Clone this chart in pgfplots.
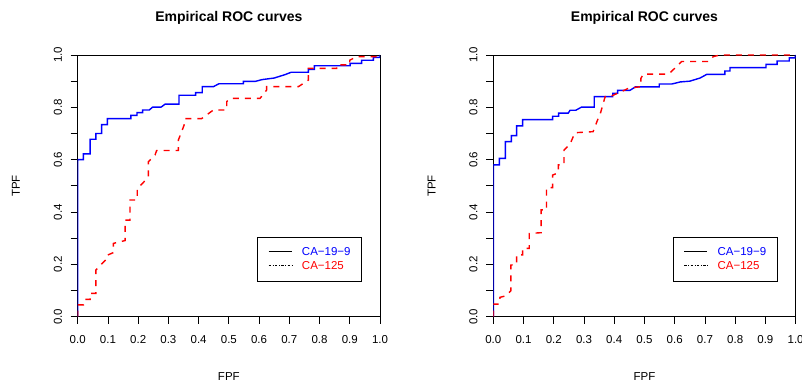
\documentclass[border=0pt]{standalone}
\usepackage{pgfplots}
\pgfplotsset{compat=1.18}
\usepackage{fontspec}
\setmainfont{Liberation Sans}

\newcommand{\basefont}{\fontsize{11.5}{13}\selectfont}

\pgfplotsset{
  rocstyle/.style={
    scale only axis, width=302.3pt, height=261.7pt,
    anchor=south west,
    xmin=0, xmax=1, ymin=0, ymax=1,
    clip=true,
    axis line style={line width=0.8pt, black},
    tick style={line width=0.8pt, black},
    tick align=outside, xtick pos=bottom, ytick pos=left,
    major tick length=7pt,
    xtick={0,0.1,0.2,0.3,0.4,0.5,0.6,0.7,0.8,0.9,1},
    xticklabels={0.0,0.1,0.2,0.3,0.4,0.5,0.6,0.7,0.8,0.9,1.0},
    ytick={0,0.1,0.2,0.3,0.4,0.5,0.6,0.7,0.8,0.9,1},
    yticklabels={0.0,,0.2,,0.4,,0.6,,0.8,,1.0},
    /pgf/number format/assume math mode=true,
    ticklabel style={font=\basefont, inner sep=0pt},
    xticklabel style={anchor=north},
    yticklabel style={rotate=90, anchor=south},
    xticklabel shift=11.5pt,
    yticklabel shift=8.6pt,
    title={Empirical ROC curves},
    title style={at={(axis description cs:0.5,1.119)}, anchor=center, yshift=0pt,
      font=\bfseries\fontsize{14}{16}\selectfont},
    xlabel={FPF}, ylabel={TPF},
    label style={font=\basefont},
    xlabel style={at={(axis description cs:0.5,-0.2304)}, anchor=center},
    ylabel style={at={(axis description cs:-0.204,0.5)}, anchor=center},
    legend cell align=left,
    legend image code/.code={\draw[##1] (0pt,1.5pt) -- (23pt,1.5pt);},
    legend style={at={(axis description cs:0.94,0.133)}, anchor=south east,
      draw=black, line width=0.6pt, fill=white,
      inner xsep=11pt, inner ysep=9.75pt, row sep=3.5pt, column sep=10pt,
      font=\basefont,
      nodes={inner sep=0pt, text height=8.5pt, text depth=2pt}},
  },
  bluecurve/.style={blue, line width=1.4pt, line join=miter, forget plot},
  redcurve/.style={red, line width=1.4pt, dash pattern=on 6pt off 6pt, forget plot},
}

\begin{document}
\begin{tikzpicture}
\useasboundingbox (0,0) rectangle (802pt,385pt);

\begin{axis}[rocstyle, at={(77.7pt,68.3pt)}]
\addplot[bluecurve] coordinates {
(0,0) (0,0.6) (0.019,0.6) (0.019,0.622) (0.041,0.622) (0.041,0.678) (0.06,0.678)
(0.06,0.70) (0.079,0.70) (0.079,0.734) (0.098,0.734) (0.098,0.757) (0.176,0.757)
(0.176,0.769) (0.196,0.769) (0.196,0.78) (0.215,0.78) (0.215,0.79) (0.237,0.79)
(0.248,0.801) (0.276,0.801) (0.289,0.812) (0.335,0.812) (0.335,0.846) (0.39,0.846)
(0.39,0.856) (0.412,0.856) (0.412,0.879) (0.449,0.879) (0.467,0.89) (0.548,0.89)
(0.548,0.899) (0.587,0.899) (0.61,0.906) (0.65,0.912) (0.686,0.925) (0.706,0.934)
(0.763,0.934) (0.763,0.945) (0.783,0.945) (0.783,0.959) (0.901,0.959) (0.901,0.968)
(0.939,0.968) (0.939,0.98) (0.978,0.98) (0.978,0.991) (1,0.991) (1,1)
};
\addplot[redcurve] coordinates {
(0,0) (0,0.045) (0.019,0.045) (0.022,0.066) (0.041,0.066) (0.041,0.089) (0.06,0.089)
(0.06,0.178) (0.079,0.201) (0.098,0.223) (0.098,0.235) (0.118,0.245) (0.118,0.28)
(0.157,0.291) (0.157,0.369) (0.173,0.369) (0.173,0.446) (0.197,0.446) (0.197,0.49)
(0.215,0.51) (0.234,0.535) (0.234,0.592) (0.256,0.618) (0.261,0.635) (0.333,0.635)
(0.333,0.675) (0.352,0.732) (0.355,0.757) (0.41,0.757) (0.449,0.79) (0.493,0.79)
(0.493,0.822) (0.504,0.834) (0.603,0.834) (0.625,0.866) (0.625,0.879) (0.73,0.879)
(0.763,0.904) (0.763,0.949) (0.857,0.949) (0.857,0.962) (0.9,0.962) (0.9,0.98)
(0.923,0.994) (1,0.994) (1,1)
};
\addlegendimage{black, line width=0.6pt}
\addlegendentry{\textcolor{blue}{CA−19−9}}
\addlegendimage{black, line width=0.6pt, dash pattern=on 2.5pt off 1.5pt on 0.8pt off 1.5pt}
\addlegendentry{\textcolor{red}{CA−125}}
\end{axis}

\begin{axis}[rocstyle, at={(493.3pt,68.3pt)}]
\addplot[bluecurve] coordinates {
(0,0) (0,0.58) (0.02,0.58) (0.02,0.605) (0.04,0.605) (0.04,0.669) (0.06,0.669)
(0.06,0.692) (0.077,0.692) (0.077,0.729) (0.097,0.729) (0.097,0.753) (0.196,0.753)
(0.196,0.766) (0.216,0.766) (0.216,0.778) (0.248,0.778) (0.254,0.789) (0.273,0.789)
(0.292,0.801) (0.334,0.801) (0.334,0.841) (0.395,0.841) (0.395,0.854) (0.411,0.854)
(0.411,0.865) (0.452,0.865) (0.47,0.878) (0.549,0.878) (0.549,0.889) (0.59,0.889)
(0.618,0.897) (0.65,0.9) (0.684,0.912) (0.706,0.926) (0.766,0.926) (0.766,0.939)
(0.783,0.939) (0.783,0.952) (0.902,0.952) (0.902,0.964) (0.939,0.964) (0.939,0.977)
(0.979,0.977) (0.979,0.989) (0.998,0.989) (1,1)
};
\addplot[redcurve] coordinates {
(0,0) (0,0.048) (0.02,0.048) (0.022,0.074) (0.042,0.08) (0.058,0.099) (0.058,0.197)
(0.077,0.2) (0.077,0.236) (0.097,0.236) (0.097,0.261) (0.119,0.261) (0.119,0.318)
(0.158,0.321) (0.158,0.408) (0.176,0.408) (0.176,0.493) (0.196,0.493) (0.196,0.541)
(0.215,0.55) (0.215,0.58) (0.234,0.58) (0.234,0.637) (0.254,0.66) (0.27,0.703)
(0.33,0.707) (0.345,0.752) (0.355,0.78) (0.37,0.841) (0.386,0.841) (0.424,0.86)
(0.447,0.873) (0.488,0.879) (0.488,0.91) (0.496,0.927) (0.58,0.927) (0.6,0.949)
(0.623,0.975) (0.712,0.975) (0.728,0.994) (0.75,1) (1,1)
};
\addlegendimage{black, line width=0.6pt}
\addlegendentry{\textcolor{blue}{CA−19−9}}
\addlegendimage{black, line width=0.6pt, dash pattern=on 2.5pt off 1.5pt on 0.8pt off 1.5pt}
\addlegendentry{\textcolor{red}{CA−125}}
\end{axis}
\end{tikzpicture}
\end{document}
